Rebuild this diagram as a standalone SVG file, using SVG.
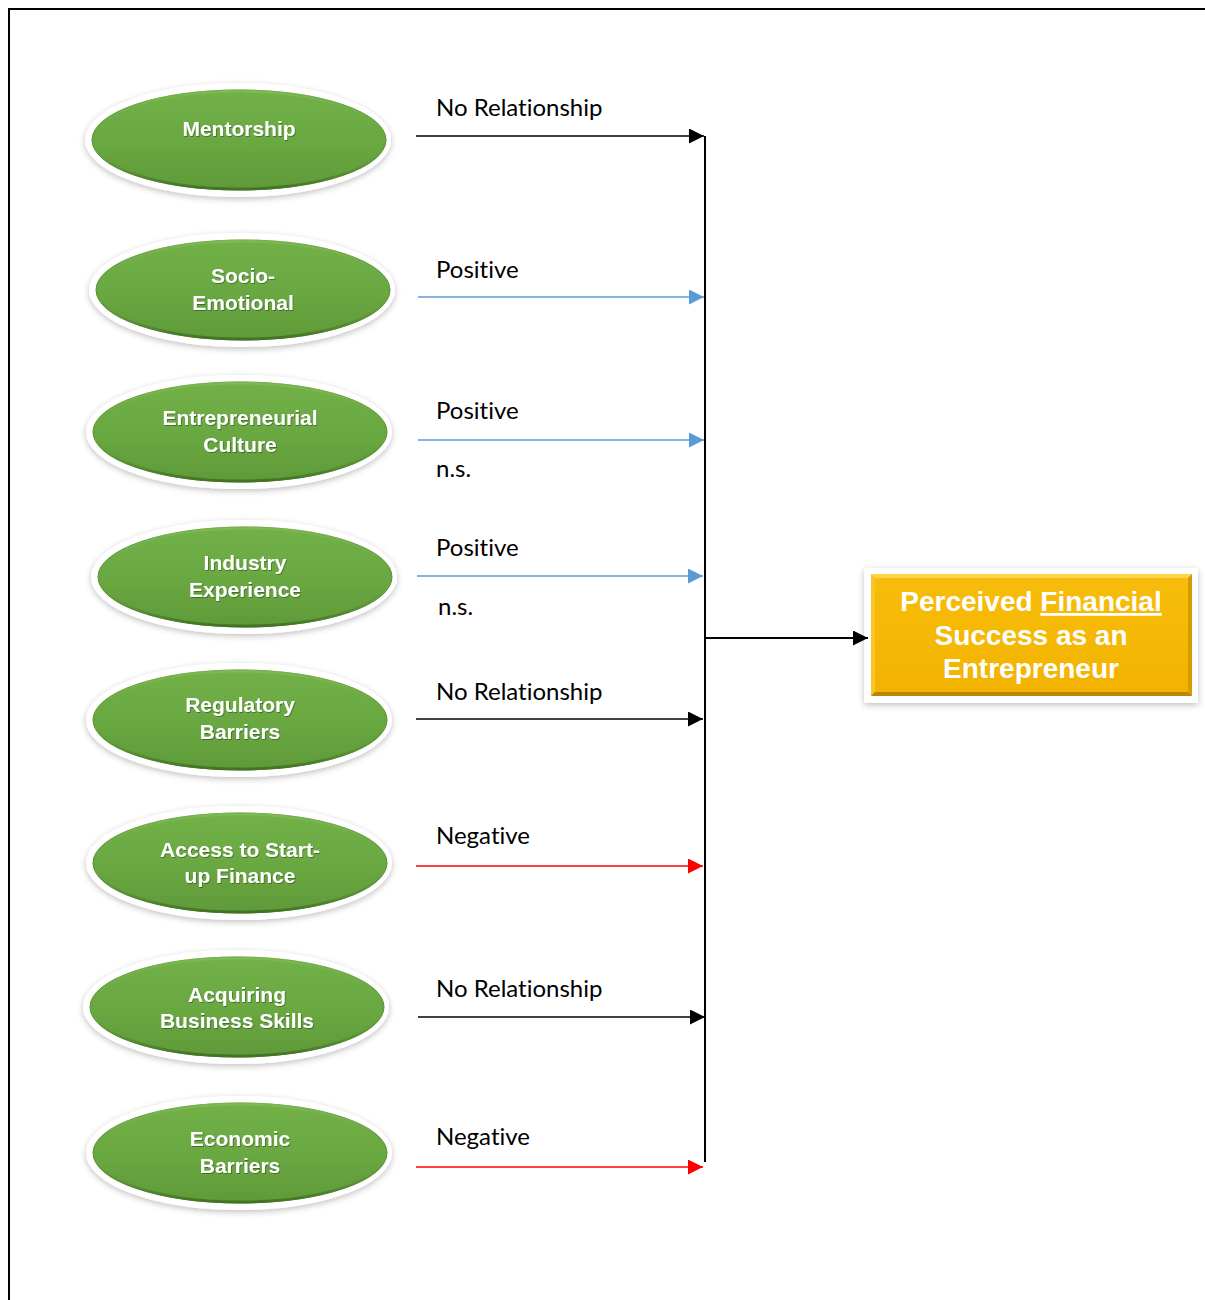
<svg xmlns="http://www.w3.org/2000/svg" width="1205" height="1300" viewBox="0 0 1205 1300">
  <style>
    .frame { fill: none; stroke: #000; stroke-width: 2; }
    .rim { fill: #fff; filter: url(#soft); }
    .pill { fill: url(#green); stroke: #5b8f33; stroke-width: 1; }
    .pill-edge { fill: none; stroke: url(#edge); stroke-width: 3; }
    .ntext { font-family: "Liberation Sans", Arial, sans-serif; font-weight: bold; font-size: 21px; fill: #fff; text-anchor: middle; }
    .lbl { font-family: Lato, "Open Sans", sans-serif; font-size: 24px; fill: #000; font-variant-ligatures: none; }
    .btext { font-family: "Liberation Sans", Arial, sans-serif; font-weight: bold; font-size: 28px; fill: #fff; text-anchor: middle; }
    .k { stroke: #000; stroke-width: 1.3; fill: none; }
    .b { stroke: #5b9bd5; stroke-width: 1.3; fill: none; }
    .r { stroke: #ff0000; stroke-width: 1.3; fill: none; }
    .spine { stroke: #000; stroke-width: 2; fill: none; }
  </style>
  <defs>
    <filter id="soft" x="-10%" y="-20%" width="120%" height="150%">
      <feGaussianBlur in="SourceAlpha" stdDeviation="3"/>
      <feOffset dy="2" result="b"/>
      <feFlood flood-color="#000" flood-opacity="0.25"/>
      <feComposite in2="b" operator="in" result="s"/>
      <feMerge><feMergeNode in="s"/><feMergeNode in="SourceGraphic"/></feMerge>
    </filter>
    <filter id="tshadow" x="-10%" y="-30%" width="120%" height="160%">
      <feDropShadow dx="0.8" dy="1" stdDeviation="0.6" flood-color="#000" flood-opacity="0.35"/>
    </filter>
    <linearGradient id="green" x1="0" y1="0" x2="0" y2="1">
      <stop offset="0" stop-color="#72b048"/>
      <stop offset="0.55" stop-color="#69a741"/>
      <stop offset="1" stop-color="#5f9a38"/>
    </linearGradient>
    <linearGradient id="edge" x1="0" y1="0" x2="0" y2="1">
      <stop offset="0" stop-color="#86c25a" stop-opacity="0.6"/>
      <stop offset="0.6" stop-color="#5e9837" stop-opacity="0"/>
      <stop offset="1" stop-color="#3f6e22" stop-opacity="0.9"/>
    </linearGradient>
    <linearGradient id="gold" x1="0" y1="0" x2="0" y2="1">
      <stop offset="0" stop-color="#f7bd0a"/>
      <stop offset="1" stop-color="#f2b300"/>
    </linearGradient>
    <marker id="ak" viewBox="0 0 10 10" refX="10" refY="5" markerWidth="16" markerHeight="15" markerUnits="userSpaceOnUse" orient="auto">
      <path d="M0,0 L10,5 L0,10 Z" fill="#000"/>
    </marker>
    <marker id="ab" viewBox="0 0 10 10" refX="10" refY="5" markerWidth="16" markerHeight="15" markerUnits="userSpaceOnUse" orient="auto">
      <path d="M0,0 L10,5 L0,10 Z" fill="#5b9bd5"/>
    </marker>
    <marker id="ar" viewBox="0 0 10 10" refX="10" refY="5" markerWidth="16" markerHeight="15" markerUnits="userSpaceOnUse" orient="auto">
      <path d="M0,0 L10,5 L0,10 Z" fill="#ff0000"/>
    </marker>
  </defs>

  <rect width="1205" height="1300" fill="#fff"/>
  <!-- page frame: top and left rules -->
  <path class="frame" d="M9,1300 V9 H1205"/>

  <!-- factor nodes -->
  <g id="node-mentorship">
    <ellipse class="rim" cx="238" cy="140" rx="153" ry="57"/>
    <ellipse class="pill" cx="239" cy="140" rx="147" ry="50"/>
    <ellipse class="pill-edge" cx="239" cy="140" rx="146" ry="49"/>
    <text class="ntext" filter="url(#tshadow)" x="239" y="136">Mentorship</text>
  </g>
  <g id="node-socio-emotional">
    <ellipse class="rim" cx="242" cy="290" rx="153" ry="57"/>
    <ellipse class="pill" cx="243" cy="290" rx="147" ry="50"/>
    <ellipse class="pill-edge" cx="243" cy="290" rx="146" ry="49"/>
    <text class="ntext" filter="url(#tshadow)" x="243" y="283">Socio-</text>
    <text class="ntext" filter="url(#tshadow)" x="243" y="310">Emotional</text>
  </g>
  <g id="node-entrepreneurial-culture">
    <ellipse class="rim" cx="239" cy="432" rx="153" ry="57"/>
    <ellipse class="pill" cx="240" cy="432" rx="147" ry="50"/>
    <ellipse class="pill-edge" cx="240" cy="432" rx="146" ry="49"/>
    <text class="ntext" filter="url(#tshadow)" x="240" y="425">Entrepreneurial</text>
    <text class="ntext" filter="url(#tshadow)" x="240" y="452">Culture</text>
  </g>
  <g id="node-industry-experience">
    <ellipse class="rim" cx="244" cy="577" rx="153" ry="57"/>
    <ellipse class="pill" cx="245" cy="577" rx="147" ry="50"/>
    <ellipse class="pill-edge" cx="245" cy="577" rx="146" ry="49"/>
    <text class="ntext" filter="url(#tshadow)" x="245" y="570">Industry</text>
    <text class="ntext" filter="url(#tshadow)" x="245" y="597">Experience</text>
  </g>
  <g id="node-regulatory-barriers">
    <ellipse class="rim" cx="239" cy="720" rx="153" ry="57"/>
    <ellipse class="pill" cx="240" cy="720" rx="147" ry="50"/>
    <ellipse class="pill-edge" cx="240" cy="720" rx="146" ry="49"/>
    <text class="ntext" filter="url(#tshadow)" x="240" y="712">Regulatory</text>
    <text class="ntext" filter="url(#tshadow)" x="240" y="739">Barriers</text>
  </g>
  <g id="node-startup-finance">
    <ellipse class="rim" cx="239" cy="863" rx="153" ry="57"/>
    <ellipse class="pill" cx="240" cy="863" rx="147" ry="50"/>
    <ellipse class="pill-edge" cx="240" cy="863" rx="146" ry="49"/>
    <text class="ntext" filter="url(#tshadow)" x="240" y="857">Access to Start-</text>
    <text class="ntext" filter="url(#tshadow)" x="240" y="883">up Finance</text>
  </g>
  <g id="node-business-skills">
    <ellipse class="rim" cx="236" cy="1007" rx="153" ry="57"/>
    <ellipse class="pill" cx="237" cy="1007" rx="147" ry="50"/>
    <ellipse class="pill-edge" cx="237" cy="1007" rx="146" ry="49"/>
    <text class="ntext" filter="url(#tshadow)" x="237" y="1002">Acquiring</text>
    <text class="ntext" filter="url(#tshadow)" x="237" y="1028">Business Skills</text>
  </g>
  <g id="node-economic-barriers">
    <ellipse class="rim" cx="239" cy="1153" rx="153" ry="57"/>
    <ellipse class="pill" cx="240" cy="1153" rx="147" ry="50"/>
    <ellipse class="pill-edge" cx="240" cy="1153" rx="146" ry="49"/>
    <text class="ntext" filter="url(#tshadow)" x="240" y="1146">Economic</text>
    <text class="ntext" filter="url(#tshadow)" x="240" y="1173">Barriers</text>
  </g>

  <!-- outcome node -->
  <g id="node-outcome">
    <rect x="864" y="568" width="334" height="135" fill="#fff" filter="url(#soft)"/>
    <rect x="871" y="574" width="321" height="122" fill="url(#gold)"/>
    <path d="M871,574 H1192 L1188,578 H875 Z" fill="#ffd34a"/>
    <path d="M871,574 L875,578 V692 L871,696 Z" fill="#f8c52a"/>
    <path d="M871,696 L875,692 H1188 L1192,696 Z" fill="#b98600"/>
    <path d="M1192,574 L1188,578 V692 L1192,696 Z" fill="#d49c00"/>
    <text class="btext" x="1031" y="611">Perceived <tspan text-decoration="underline">Financial</tspan></text>
    <text class="btext" x="1031" y="645">Success as an</text>
    <text class="btext" x="1031" y="678">Entrepreneur</text>
  </g>

  <!-- connectors -->
  <g id="connectors">
    <line class="spine" x1="705" y1="136" x2="705" y2="1162"/>
    <line class="k" x1="416" y1="136" x2="704" y2="136" marker-end="url(#ak)"/>
    <line class="b" x1="418" y1="297" x2="704" y2="297" marker-end="url(#ab)"/>
    <line class="b" x1="418" y1="440" x2="704" y2="440" marker-end="url(#ab)"/>
    <line class="b" x1="417" y1="576" x2="703" y2="576" marker-end="url(#ab)"/>
    <line class="k" x1="416" y1="719" x2="703" y2="719" marker-end="url(#ak)"/>
    <line class="r" x1="416" y1="866" x2="703" y2="866" marker-end="url(#ar)"/>
    <line class="k" x1="418" y1="1017" x2="705" y2="1017" marker-end="url(#ak)"/>
    <line class="r" x1="416" y1="1167" x2="703" y2="1167" marker-end="url(#ar)"/>
    <line x1="706" y1="638" x2="868" y2="638" stroke="#000" stroke-width="2" marker-end="url(#ak)"/>

    <text class="lbl" x="436" y="116">No Relationship</text>
    <text class="lbl" x="436" y="278">Positive</text>
    <text class="lbl" x="436" y="419">Positive</text>
    <text class="lbl" x="436" y="477">n.s.</text>
    <text class="lbl" x="436" y="556">Positive</text>
    <text class="lbl" x="438" y="615">n.s.</text>
    <text class="lbl" x="436" y="700">No Relationship</text>
    <text class="lbl" x="436" y="844">Negative</text>
    <text class="lbl" x="436" y="997">No Relationship</text>
    <text class="lbl" x="436" y="1145">Negative</text>
  </g>
</svg>
